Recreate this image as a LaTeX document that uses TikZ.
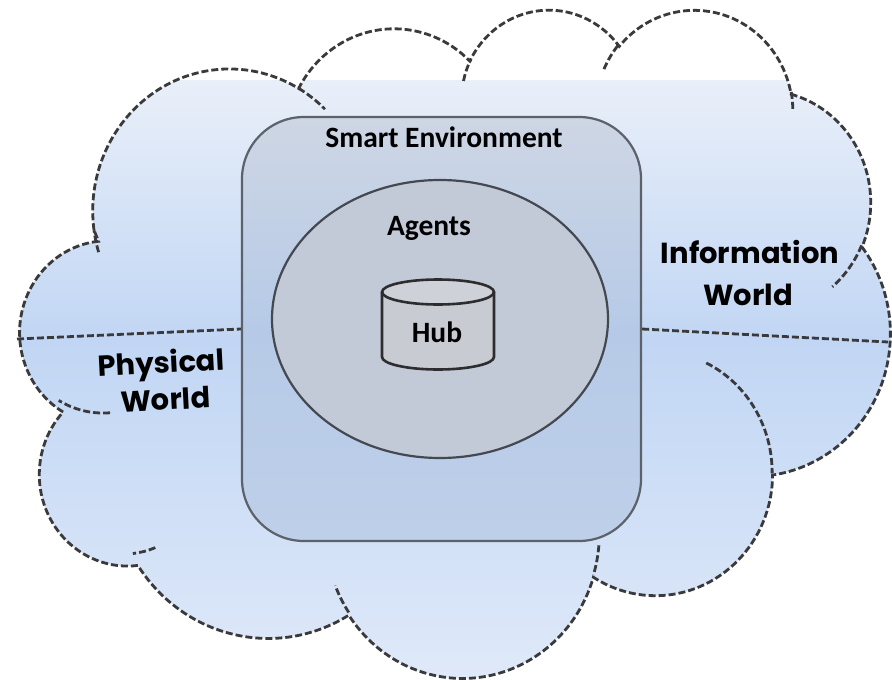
\documentclass[tikz,border=0pt]{standalone}
\usepackage{fontspec}
\setmainfont{Carlito}
\newfontfamily\geofont{Poppins}
\usetikzlibrary{shapes.geometric}
\makeatletter
\newcommand\mkcloudarc[5]{%
  \pgfmathsetmacro\cl@a{atan2((#2)*sin(#4),(#3)*cos(#4))}%
  \pgfmathsetmacro\cl@b{atan2((#2)*sin((#4)+(#5)),(#3)*cos((#4)+(#5)))}%
  \pgfmathsetmacro\cl@d{mod(\cl@b-\cl@a+720,360)}%
  \expandafter\xdef\csname cls#1\endcsname{\cl@a}%
  \expandafter\xdef\csname cld#1\endcsname{\cl@d}%
}
\makeatother
% main outline
\mkcloudarc{A}{67.53}{91.90}{-190.48748}{123.78053}
\mkcloudarc{B}{53.33}{72.67}{-144.10238}{89.94523}
\mkcloudarc{C}{43.65}{59.45}{-145.80792}{99.72302}
\mkcloudarc{D}{48.57}{65.95}{-130.98607}{117.24173}
\mkcloudarc{E}{53.33}{72.73}{-78.70888}{109.02692}
\mkcloudarc{F}{67.75}{92.20}{-46.26725}{130.269}
\mkcloudarc{G}{57.85}{78.67}{0.62502}{114.03333}
\mkcloudarc{H}{67.52}{92.15}{22.4516}{115.17255}
\mkcloudarc{I}{77.20}{105.43}{66.24263}{71.62542}
\mkcloudarc{J}{43.60}{59.18}{-274.94208}{146.73557}
\mkcloudarc{K}{43.45}{59.45}{-246.8285}{152.51885}
% inner arcs
\mkcloudarc{a}{43.45}{59.45}{86.742}{26.4295}
\mkcloudarc{b}{43.60}{59.18}{73.6105}{11.4475}
\mkcloudarc{c}{67.52}{92.15}{137.6242}{14.0811}
\mkcloudarc{d}{67.52}{92.15}{6.4533}{15.9984}
\mkcloudarc{e}{57.85}{78.67}{-70.2924}{70.9174}
\mkcloudarc{f}{53.33}{72.73}{30.318}{27.7515}
\mkcloudarc{g}{48.57}{65.95}{-13.7443}{14.8589}
\mkcloudarc{h}{48.57}{65.95}{-149.1815}{18.1954}
\mkcloudarc{i}{43.65}{59.45}{-163.4943}{17.6864}
\mkcloudarc{j}{67.53}{91.90}{-66.707}{12.3194}
\mkcloudarc{k}{67.53}{91.90}{-202.35}{11.86}
\newcommand\cloudpath{(39,143.7)
 arc[x radius=67.53, y radius=91.90, start angle=\clsA, delta angle=\cldA]
 arc[x radius=53.33, y radius=72.67, start angle=\clsB, delta angle=\cldB]
 arc[x radius=43.65, y radius=59.45, start angle=\clsC, delta angle=\cldC]
 arc[x radius=48.57, y radius=65.95, start angle=\clsD, delta angle=\cldD]
 arc[x radius=53.33, y radius=72.73, start angle=\clsE, delta angle=\cldE]
 arc[x radius=67.75, y radius=92.20, start angle=\clsF, delta angle=\cldF]
 arc[x radius=57.85, y radius=78.67, start angle=\clsG, delta angle=\cldG]
 arc[x radius=67.52, y radius=92.15, start angle=\clsH, delta angle=\cldH]
 arc[x radius=77.20, y radius=105.43, start angle=\clsI, delta angle=\cldI]
 arc[x radius=43.60, y radius=59.18, start angle=\clsJ, delta angle=\cldJ]
 arc[x radius=43.45, y radius=59.45, start angle=\clsK, delta angle=\cldK]
 -- cycle}
\definecolor{cloudtop}{RGB}{233,239,249}
\definecolor{cloudmid}{RGB}{193,214,244}
\definecolor{cloudbot}{RGB}{223,233,249}
\definecolor{dashgray}{RGB}{58,58,60}
\definecolor{envtop}{RGB}{206,214,228}
\definecolor{envmid}{RGB}{182,202,231}
\definecolor{envbot}{RGB}{190,207,233}
\definecolor{envline}{RGB}{92,97,106}
\definecolor{agfill}{RGB}{194,202,216}
\definecolor{agline}{RGB}{68,72,80}
\definecolor{cylfill}{RGB}{200,203,210}
\definecolor{cyltop}{RGB}{206,209,215}
\definecolor{cylline}{RGB}{45,45,48}
\tikzset{
  cloudline/.style={draw=dashgray, line width=2.8pt, dash pattern=on 7pt off 3pt},
  envbox/.style={draw=envline, line width=2.2pt, rounded corners=62pt,
    top color=envtop, bottom color=envbot, middle color=envmid, inner sep=0pt},
  agentsell/.style={ellipse, draw=agline, line width=2.2pt, fill=agfill, inner sep=0pt},
  cyl/.style={draw=cylline, line width=2.6pt},
  lbl/.style={font=\bfseries\fontsize{29.5}{31}\selectfont, text=black, anchor=base, inner sep=0pt},
  worldlbl/.style={font=\geofont\bfseries\fontsize{29}{31}\selectfont, text=black, anchor=base, inner sep=0pt}
}
\begin{document}
\begin{tikzpicture}[x=1pt, y=1pt]
\useasboundingbox (0,0) rectangle (892,-680);
% cloud fill (clipped below y=80)
\begin{scope}
  \clip (0,-80) rectangle (892,-690);
  \begin{scope}[shift={(15pt,-8pt)}, x=2.02546pt, y=-1.546296pt]
    \clip \cloudpath;
    \shade[top color=cloudtop, bottom color=cloudmid] (-15pt,-72pt) rectangle (877pt,-332pt);
    \shade[top color=cloudmid, bottom color=cloudbot] (-15pt,-331pt) rectangle (877pt,-672pt);
  \end{scope}
\end{scope}
% cloud outline
\begin{scope}[shift={(15pt,-8pt)}, x=2.02546pt, y=-1.546296pt]
  \draw[cloudline] \cloudpath;
  \draw[cloudline] (46.93,261.77) arc[x radius=43.45, y radius=59.45, start angle=\clsa, delta angle=\clda];
  \draw[cloudline] (69.28,348.99) arc[x radius=43.60, y radius=59.18, start angle=\clsb, delta angle=\cldb];
  \draw[cloudline] (164.78,390.90) arc[x radius=67.52, y radius=92.15, start angle=\clsc, delta angle=\cldc];
  \draw[cloudline] (288.27,347.51) arc[x radius=67.52, y radius=92.15, start angle=\clsd, delta angle=\cldd];
  \draw[cloudline] (341.29,229.54) arc[x radius=57.85, y radius=78.67, start angle=\clse, delta angle=\clde];
  \draw[cloudline] (417.98,153.54) arc[x radius=53.33, y radius=72.73, start angle=\clsf, delta angle=\cldf];
  \draw[cloudline] (383.24,54.26) arc[x radius=48.57, y radius=65.95, start angle=\clsg, delta angle=\cldg];
  \draw[cloudline] (290.78,39.52) arc[x radius=48.57, y radius=65.95, start angle=\clsh, delta angle=\cldh];
  \draw[cloudline] (221.41,47.20) arc[x radius=43.65, y radius=59.45, start angle=\clsi, delta angle=\cldi];
  \draw[cloudline] (140.00,51.92) arc[x radius=67.53, y radius=91.90, start angle=\clsj, delta angle=\cldj];
  \draw[cloudline] (41.27,157.89) arc[x radius=67.53, y radius=91.90, start angle=\clsk, delta angle=\cldk];
\end{scope}
% smart environment
\node[envbox, minimum width=399pt, minimum height=424pt] (env) at (441.5,-329) {};
\node[lbl] (envlabel) at (444,-147) {Smart Environment};
% divider lines
\coordinate (pwedge) at (17,-339);
\coordinate (iwedge) at (888,-342);
\draw[cloudline] (pwedge) -- (env.west);
\draw[cloudline] (env.east) -- (iwedge);
% agents
\node[agentsell, minimum width=336pt, minimum height=278pt] (agents) at (440,-319) {};
\node[lbl] (agentslabel) at (429,-235) {Agents};
% hub cylinder
\fill[cylfill] (382,-292) -- (382,-357) arc[x radius=56, y radius=12.5, start angle=180, end angle=360] -- (494,-292) -- cycle;
\fill[cyltop] (438,-292) ellipse [x radius=56, y radius=12.5];
\draw[cyl] (382,-292) -- (382,-357) arc[x radius=56, y radius=12.5, start angle=180, end angle=360] -- (494,-292);
\draw[cyl] (438,-292) ellipse [x radius=56, y radius=12.5];
\node[lbl] (hub) at (437,-342) {Hub};
% world labels
\node[worldlbl, rotate=3] (phys1) at (162,-373) {Physical};
\node[worldlbl, rotate=3] (phys2) at (166,-410) {World};
\node[worldlbl] (info1) at (750,-263) {Information};
\node[worldlbl] (info2) at (748,-305) {World};
\end{tikzpicture}
\end{document}
